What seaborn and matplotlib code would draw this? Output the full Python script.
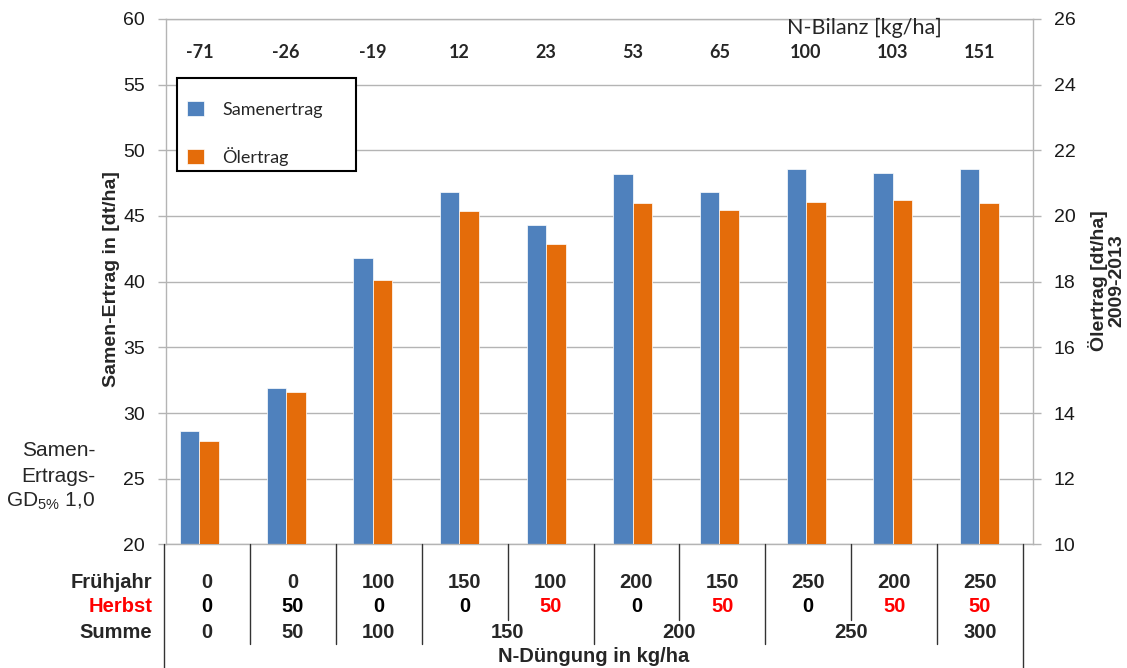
import matplotlib
matplotlib.use("Agg")
import matplotlib.pyplot as plt
from matplotlib.patches import Rectangle, Patch
from matplotlib.lines import Line2D
from matplotlib.transforms import blended_transform_factory
import pandas as pd
import seaborn as sns

# --- data -------------------------------------------------------------------
fruehjahr = [0, 0, 100, 150, 100, 200, 150, 250, 200, 250]
herbst = [0, 50, 0, 0, 50, 0, 50, 0, 50, 50]
herbst_rot = [False, False, False, False, True, False, True, False, True, True]
summe = [0, 50, 100, 150, 150, 200, 200, 250, 250, 300]
n_bilanz = [-71, -26, -19, 12, 23, 53, 65, 100, 103, 151]
samenertrag = [28.6, 31.9, 41.8, 46.8, 44.3, 48.2, 46.8, 48.6, 48.3, 48.6]
oelertrag = [13.15, 14.63, 18.05, 20.14, 19.15, 20.40, 20.18, 20.42, 20.48, 20.40]
serien = ["Samenertrag", "Ölertrag"]

varianten = [f"{f}+{h}" for f, h in zip(fruehjahr, herbst)]

BLUE = "#4F81BD"
ORANGE = "#E46C0A"
GRID = "#B4B4B4"
palette = {"Samenertrag": BLUE, "Ölertrag": ORANGE}

df = pd.DataFrame({
    "Variante": varianten * 2,
    "Serie": [serien[0]] * len(varianten) + [serien[1]] * len(varianten),
    "Ertrag": samenertrag + oelertrag,
})

# --- style --------------------------------------------------------------------
sns.set_theme(style="white")
plt.rcParams["font.family"] = ["Liberation Sans", "DejaVu Sans"]
plt.rcParams["mathtext.fontset"] = "custom"
plt.rcParams["mathtext.rm"] = "Liberation Sans"
plt.rcParams["mathtext.default"] = "regular"

W, H = 1127, 668
fig = plt.figure(figsize=(W / 100, H / 100), dpi=100)


def fx(px):
    return px / W


def fy(py):
    return 1 - py / H


# plot area
ax1 = fig.add_axes([fx(166), fy(544.4), (1032.7 - 166) / W, (544.4 - 18.9) / H])
ax2 = ax1.twinx()

common = dict(x="Variante", y="Ertrag", hue="Serie", hue_order=serien,
              order=varianten, palette=palette, width=0.45, dodge=True,
              saturation=1, edgecolor="white", linewidth=0.5,
              errorbar=None, legend=False)
sns.barplot(data=df[df["Serie"] == serien[0]], ax=ax1, **common)
sns.barplot(data=df[df["Serie"] == serien[1]], ax=ax2, **common)

n = len(varianten)
ax1.set_xlim(-0.385, n - 0.385)

ax1.set_ylim(20, 60)
ax1.set_yticks(range(20, 61, 5))
ax2.set_ylim(10, 26)
ax2.set_yticks(range(10, 27, 2))

ax1.yaxis.grid(True, color=GRID, linewidth=1)
ax1.set_axisbelow(True)
ax2.grid(False)

for a in (ax1, ax2):
    a.set_xlabel("")
    a.set_ylabel("")
    a.tick_params(axis="x", length=0, labelbottom=False, labeltop=False)
    for s in a.spines.values():
        s.set_color(GRID)
        s.set_linewidth(1)
ax1.spines["right"].set_visible(False)
for side in ("left", "top", "bottom"):
    ax2.spines[side].set_visible(False)

ax1.tick_params(axis="y", direction="out", length=6, width=1, color=GRID,
                labelsize=14, pad=9, labelcolor="#1a1a1a", left=True)
ax2.tick_params(axis="y", direction="out", length=6, width=1, color=GRID,
                labelsize=14, pad=9, labelcolor="#1a1a1a", right=True)

# axis titles
fig.text(fx(112), fy(279), "Samen-Ertrag in [dt/ha]", rotation=90,
         ha="center", va="center", fontsize=14, fontweight="bold")
fig.text(fx(1107), fy(281), "Ölertrag [dt/ha]\n2009-2013", rotation=90,
         ha="center", va="center", fontsize=14, fontweight="bold",
         multialignment="center", linespacing=1.05)

# GD annotation
for txt, py in zip(["Samen-", "Ertrags-", r"GD$_{5\%}$ 1,0"], [451, 476, 501]):
    fig.text(fx(95), fy(py), txt, ha="right", va="center", fontsize=15)

# N-Bilanz row above the bars
top_tr = blended_transform_factory(ax1.transData, fig.transFigure)
for i, v in enumerate(n_bilanz):
    ax1.text(i, fy(52), f"{v}", transform=top_tr, ha="center", va="center",
             fontsize=13, fontweight="bold", family=["Lato", "DejaVu Sans"])
fig.text(fx(864), fy(28), "N-Bilanz [kg/ha]", ha="center", va="center",
         fontsize=15.5, family=["Lato", "DejaVu Sans"])

# legend with framed white box
rect = Rectangle((fx(177.3), fy(171)), (355.7 - 177.3) / W, (171 - 78.3) / H,
                 transform=fig.transFigure, facecolor="white",
                 edgecolor="black", linewidth=1.5, zorder=4)
fig.add_artist(rect)
handles = [Patch(facecolor=palette[s], edgecolor="white", linewidth=0.5) for s in serien]
leg = fig.legend(handles, serien, loc="upper left",
                 bbox_to_anchor=(fx(187), fy(101)), frameon=False,
                 handlelength=0.95, handleheight=0.9, handletextpad=1.0,
                 labelspacing=1.6, borderpad=0, borderaxespad=0,
                 prop={"family": ["Lato", "DejaVu Sans"], "size": 13})
leg.set_zorder(6)

# treatment table below the plot
t_left, t_right = 164, 1023
col_w = (t_right - t_left) / n
row_y = {"Frühjahr": 582, "Herbst": 607, "Summe": 632}
TAB = dict(ha="center", va="center", fontsize=14.5, fontweight="bold")

fig.text(fx(152), fy(row_y["Frühjahr"]), "Frühjahr", ha="right", va="center",
         fontsize=14.5, fontweight="bold")
fig.text(fx(152), fy(row_y["Herbst"]), "Herbst", ha="right", va="center",
         fontsize=14.5, fontweight="bold", color="#FF0000")
fig.text(fx(152), fy(row_y["Summe"]), "Summe", ha="right", va="center",
         fontsize=14.5, fontweight="bold")

for i in range(n):
    cx = fx(t_left + col_w * (i + 0.5))
    fig.text(cx, fy(row_y["Frühjahr"]), f"{fruehjahr[i]}", **TAB)
    fig.text(cx, fy(row_y["Herbst"]), f"{herbst[i]}",
             color="#FF0000" if herbst_rot[i] else "black", **TAB)

# merged Summe cells: consecutive equal totals share one cell
start = 0
for i in range(1, n + 1):
    if i == n or summe[i] != summe[start]:
        cx = fx(t_left + col_w * (start + i) / 2)
        fig.text(cx, fy(row_y["Summe"]), f"{summe[start]}", **TAB)
        start = i

# table grid lines
for k in range(n + 1):
    x = fx(t_left + col_w * k)
    if k in (0, n):
        y_end = 668
    elif summe[k - 1] == summe[k]:
        y_end = 620
    else:
        y_end = 644
    fig.add_artist(Line2D([x, x], [fy(544.4), fy(y_end)], transform=fig.transFigure,
                          color="#333333", linewidth=1))

fig.text(fx((t_left + t_right) / 2), fy(656), "N-Düngung in kg/ha", ha="center",
         va="center", fontsize=14.5, fontweight="bold")

fig.savefig("out.png", dpi=100)
